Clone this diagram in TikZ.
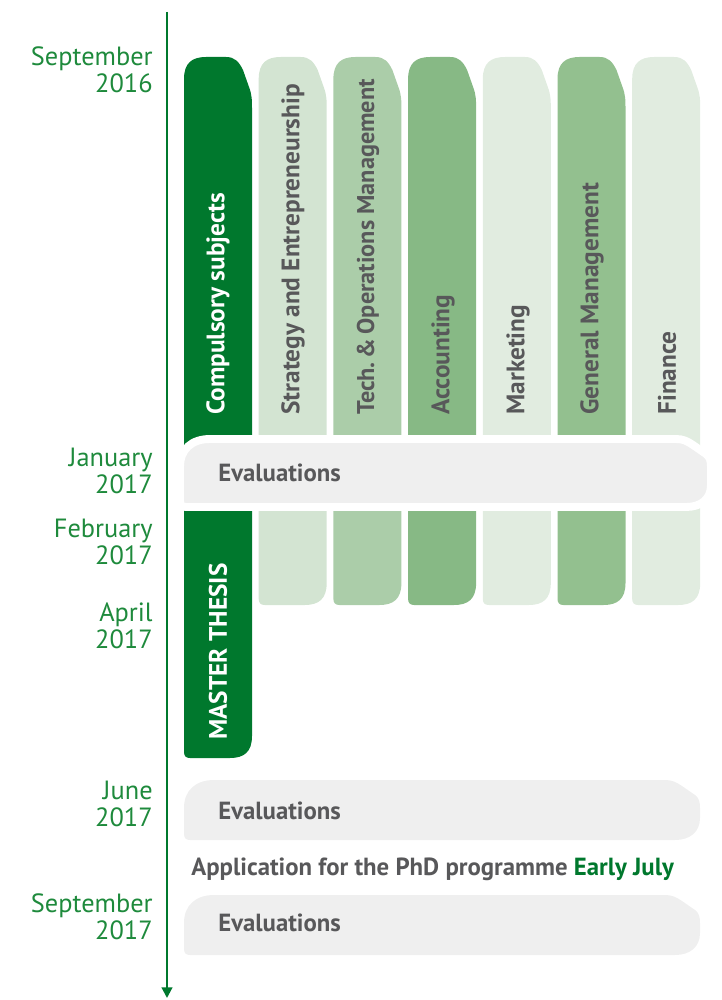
\documentclass[tikz,border=0pt]{standalone}
\usetikzlibrary{arrows.meta}
\usepackage{fontspec}
\setmainfont{PT Sans}
\frenchspacing

\definecolor{mainGreen}{HTML}{00782D}
\definecolor{dateGreen}{HTML}{1E8A3C}
\definecolor{textGray}{HTML}{58585A}
\definecolor{bandGray}{HTML}{EFEFEF}
\definecolor{stratCol}{HTML}{D3E4D2}
\definecolor{techCol}{HTML}{ABCDA9}
\definecolor{accCol}{HTML}{87B985}
\definecolor{markCol}{HTML}{E1ECE0}
\definecolor{genCol}{HTML}{93C08F}
\definecolor{finCol}{HTML}{E1ECE0}

\begin{document}
\begin{tikzpicture}[x=0.02cm, y=-0.02cm,
        date label/.style = {anchor=east, align=right, text=dateGreen, inner sep=0pt, font=\fontsize{15}{15.5}\selectfont},
        subject label/.style = {anchor=west, rotate=90, text=textGray, inner sep=0pt, font=\bfseries\fontsize{14.4}{15}\selectfont},
        eval text/.style = {anchor=west, text=textGray, inner sep=0pt, font=\bfseries\fontsize{14.1}{15}\selectfont}]
    \useasboundingbox (0,0) rectangle (722,1000);

    % time axis
    \coordinate (axis top) at (167,12);
    \coordinate (axis end) at (167,998);
    \draw[mainGreen, line width=1.2pt, -{Triangle[length=6pt,width=6pt]}] (axis top) -- (axis end);

    % subject columns: left edge, colour, bottom
    \foreach \i/\c/\b in {0/mainGreen/758, 1/stratCol/605, 2/techCol/605, 3/accCol/605, 4/markCol/605, 5/genCol/605, 6/finCol/605} {
        \pgfmathsetmacro\xa{184+74.7*\i}
        \fill[\c] (\xa,79) .. controls (\xa,63) and (\xa+8,57) .. (\xa+22,57) -- (\xa+42,57)
            .. controls (\xa+51,57) and (\xa+55,62) .. (\xa+59,70) -- (\xa+65,87)
            .. controls (\xa+68,95) and (\xa+68,100) .. (\xa+68,110) -- (\xa+68,\b-22)
            .. controls (\xa+68,\b-6) and (\xa+60,\b) .. (\xa+46,\b) -- (\xa+6,\b)
            .. controls (\xa+2,\b) and (\xa,\b-2) .. (\xa,\b-6) -- cycle;
    }

    \node[subject label, text=white] (comp) at (218,415) {Compulsory subjects};
    \node[subject label] (strat) at (293,415) {Strategy and Entrepreneurship};
    \node[subject label, font=\bfseries\fontsize{13.8}{15}\selectfont] (tech) at (368,415) {Tech.\,\&\,Operations Management};
    \node[subject label] (acc) at (443,415) {Accounting};
    \node[subject label] (mark) at (518,415) {Marketing};
    \node[subject label] (gen) at (592,415) {General Management};
    \node[subject label] (fin) at (667,415) {Finance};
    \node[subject label, text=white] (thesis) at (218,740) {MASTER THESIS};

    % evaluation bands
    \path[fill=bandGray, draw=white, line width=4.5pt] (180,467) .. controls (180,449) and (192,439) .. (210,439) -- (676,439)
        .. controls (683,439) and (687,441) .. (693,445) -- (706,454) .. controls (710,457) and (711,461) .. (711,467)
        -- (711,485) .. controls (711,499) and (701,507) .. (686,507) -- (186,507)
        .. controls (182,507) and (180,505) .. (180,501) -- cycle;
    \foreach \t in {780,895} {
        \fill[bandGray] (184,\t+28) .. controls (184,\t+10) and (196,\t) .. (214,\t) -- (665,\t)
            .. controls (672,\t) and (676,\t+2) .. (682,\t+6) -- (695,\t+15) .. controls (699,\t+18) and (700,\t+22) .. (700,\t+28)
            -- (700,\t+38) .. controls (700,\t+52) and (690,\t+60) .. (675,\t+60) -- (190,\t+60)
            .. controls (186,\t+60) and (184,\t+58) .. (184,\t+54) -- cycle;
    }
    \node[eval text] (eval1) at (218,473) {Evaluations};
    \node[eval text] (eval2) at (218,811) {Evaluations};
    \node[eval text] (eval3) at (218,923) {Evaluations};
    \node[eval text] (phd) at (191,869) {Application for the PhD programme \textcolor{mainGreen}{Early July}};

    % dates
    \node[date label] (sep16) at (153,70) {September\\2016};
    \node[date label] (jan17) at (153,471) {January\\2017};
    \node[date label] (feb17) at (153,542) {February\\2017};
    \node[date label] (apr17) at (153,626) {April\\2017};
    \node[date label] (jun17) at (153,804) {June\\2017};
    \node[date label] (sep17) at (153,917) {September\\2017};
\end{tikzpicture}
\end{document}
